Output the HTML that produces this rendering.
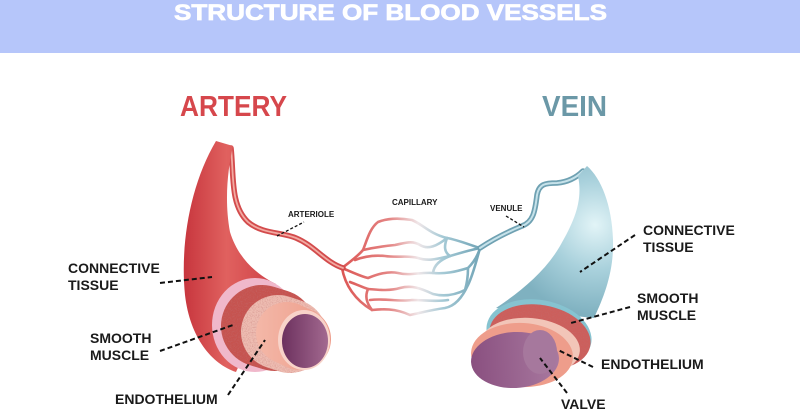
<!DOCTYPE html>
<html><head><meta charset="utf-8"><style>
html,body{margin:0;padding:0;background:#fff;}
svg{display:block;}
text{font-family:"Liberation Sans",Arial,sans-serif;font-weight:bold;}
</style></head><body>
<svg width="800" height="418" viewBox="0 0 800 418" xmlns="http://www.w3.org/2000/svg">
<defs>
<linearGradient id="horn" x1="183" y1="0" x2="280" y2="0" gradientUnits="userSpaceOnUse">
<stop offset="0" stop-color="#c7353d"/><stop offset="0.45" stop-color="#e0615f"/><stop offset="1" stop-color="#cd3d44"/>
</linearGradient>
<linearGradient id="cap" x1="340" y1="0" x2="482" y2="0" gradientUnits="userSpaceOnUse">
<stop offset="0" stop-color="#dc5553"/><stop offset="0.35" stop-color="#e48584"/><stop offset="0.55" stop-color="#efe6e8"/><stop offset="0.72" stop-color="#a6cad6"/><stop offset="1" stop-color="#6fa3b5"/>
</linearGradient>
<radialGradient id="vein" cx="595" cy="225" r="90" gradientUnits="userSpaceOnUse">
<stop offset="0" stop-color="#e2f4f7"/><stop offset="0.5" stop-color="#a9d1dc"/><stop offset="1" stop-color="#7fb1c0"/>
</radialGradient>
<linearGradient id="lumA" x1="280" y1="0" x2="330" y2="0" gradientUnits="userSpaceOnUse">
<stop offset="0" stop-color="#6a2e5c"/><stop offset="1" stop-color="#a56c92"/>
</linearGradient>
<linearGradient id="lumV" x1="472" y1="0" x2="560" y2="0" gradientUnits="userSpaceOnUse">
<stop offset="0" stop-color="#8a5080"/><stop offset="1" stop-color="#a97aa0"/>
</linearGradient>
<linearGradient id="salA" x1="255" y1="0" x2="335" y2="0" gradientUnits="userSpaceOnUse">
<stop offset="0" stop-color="#f4b8a8"/><stop offset="1" stop-color="#ec9a88"/>
</linearGradient>
<filter id="tex" filterUnits="userSpaceOnUse" x="0" y="0" width="800" height="418">
<feTurbulence type="fractalNoise" baseFrequency="0.8" numOctaves="2" seed="3" result="n"/>
<feColorMatrix in="n" type="matrix" values="0 0 0 0 0.55  0 0 0 0 0.15  0 0 0 0 0.15  0 0 0 1.2 -0.5" result="c"/>
<feComposite in="c" in2="SourceGraphic" operator="in" result="m"/>
<feMerge><feMergeNode in="SourceGraphic"/><feMergeNode in="m"/></feMerge>
</filter>
</defs>

<rect x="0" y="0" width="800" height="53" fill="#b6c6fa"/>
<text x="174" y="20" font-size="22" fill="#ffffff" stroke="#ffffff" stroke-width="0.7" textLength="433" lengthAdjust="spacingAndGlyphs">STRUCTURE OF BLOOD VESSELS</text>

<text x="180" y="116" font-size="29" fill="#d6474c" textLength="107" lengthAdjust="spacingAndGlyphs">ARTERY</text>
<text x="542" y="116" font-size="29" fill="#6b98a7" textLength="65" lengthAdjust="spacingAndGlyphs">VEIN</text>

<!-- capillaries -->
<g fill="none" stroke="url(#cap)" stroke-width="2.6" stroke-linecap="round">
<path d="M342,268 C350,262 358,256 363,250 C367,240 370,228 378,222 C388,218 400,218 412,220 C422,224 430,234 447,238 C458,240 470,245 480,248"/>
<path d="M363,250 C372,248 385,246 395,245 C405,243 412,240 420,245 C428,250 437,246 447,238"/>
<path d="M355,260 C365,256 375,255 385,256 C398,258 408,255 418,258 C430,262 440,258 450,256 C460,253 470,250 480,248"/>
<path d="M342,268 C352,272 360,276 368,278 C378,274 388,271 398,273 C410,276 420,272 433,273 C445,274 455,272 468,268 C474,262 478,255 480,248"/>
<path d="M350,282 C358,285 362,287 368,289 C380,290 390,291 400,288 C412,285 420,288 433,294 C445,297 455,295 465,290"/>
<path d="M342,268 C345,285 355,300 372,310 C382,309 395,308 410,315 C420,313 430,310 445,308 C455,306 462,298 468,285 C473,275 476,262 480,248"/>
<path d="M368,289 C365,296 366,302 372,310"/>
<path d="M370,300 C385,298 398,302 412,300 C425,300 435,302 448,300"/>
<path d="M447,238 C444,246 444,252 450,256"/>
<path d="M465,290 C468,280 468,273 468,268"/>
<path d="M433,273 C434,265 440,260 450,256"/>
</g>

<!-- arteriole -->
<path d="M231,148 C234,175 230,205 248,222 C262,234 282,232 296,238 C315,246 325,262 343,268" fill="none" stroke="#d34b4c" stroke-width="5.5" stroke-linecap="round"/>
<path d="M231,148 C234,175 230,205 248,222 C262,234 282,232 296,238 C315,246 325,262 343,268" fill="none" stroke="#f2aaa2" stroke-width="1.8" stroke-linecap="round"/>

<!-- artery horn -->
<path d="M216,141 L233,146 C228,168 224,200 230,232 C238,258 256,274 276,284 L236,372 C212,364 190,338 185,295 C180,245 190,185 216,141 Z" fill="url(#horn)"/>

<!-- artery cross-section -->
<ellipse cx="255" cy="325" rx="43" ry="47" fill="#f0b8cb"/>
<g filter="url(#tex)">
<line x1="262" y1="326" x2="275" y2="330" stroke="#c6524f" stroke-width="82" stroke-linecap="round"/>
</g>
<g filter="url(#tex)">
<line x1="278" y1="332" x2="290" y2="336" stroke="#eebdb2" stroke-width="74" stroke-linecap="round"/>
</g>
<line x1="287" y1="333" x2="300" y2="339" stroke="url(#salA)" stroke-width="62" stroke-linecap="round"/>
<ellipse cx="304" cy="340" rx="26" ry="30" fill="#f8d3c9"/>
<ellipse cx="305" cy="341" rx="23" ry="27" fill="url(#lumA)"/>

<!-- venule -->
<path d="M480,248 C492,240 505,233 522,226 C533,222 535,212 537,195 C539,184 545,183 557,183 C568,182 576,178 583,171" fill="none" stroke="#6fa1b2" stroke-width="5.5" stroke-linecap="round"/>
<path d="M480,248 C492,240 505,233 522,226 C533,222 535,212 537,195 C539,184 545,183 557,183 C568,182 576,178 583,171" fill="none" stroke="#c6e2ea" stroke-width="2" stroke-linecap="round"/>

<!-- vein body -->
<path d="M578,176 L587,166 C601,178 612,205 613,240 C614,270 605,295 594,318 L496,308 C520,292 545,272 560,246 C575,220 583,200 578,176 Z" fill="url(#vein)"/>

<!-- vein cross-section -->
<ellipse cx="539" cy="334" rx="53" ry="34" transform="rotate(10 539 334)" fill="#86c3d0"/>
<g filter="url(#tex)">
<ellipse cx="540" cy="337" rx="51" ry="32" transform="rotate(10 540 337)" fill="#cc5e5c"/>
</g>
<ellipse cx="530" cy="347" rx="50" ry="29" transform="rotate(5 530 347)" fill="#f2c5b8"/>
<ellipse cx="522" cy="355" rx="51" ry="32" transform="rotate(3 522 355)" fill="#ee9d8b"/>
<ellipse cx="515" cy="360" rx="44" ry="28" transform="rotate(-3 515 360)" fill="url(#lumV)"/>
<ellipse cx="540" cy="352" rx="17" ry="22" fill="#a6789d"/>

<!-- leaders -->
<g stroke="#111" stroke-width="2" stroke-dasharray="5,3" fill="none">
<line x1="160" y1="283" x2="212" y2="277"/>
<line x1="160" y1="351" x2="233" y2="325"/>
<line x1="228" y1="395" x2="265" y2="340"/>
<line x1="635" y1="235" x2="580" y2="272"/>
<line x1="630" y1="307" x2="571" y2="323"/>
<line x1="593" y1="367" x2="558" y2="350"/>
<line x1="567" y1="393" x2="540" y2="358"/>
</g>
<g stroke="#111" stroke-width="1.3" stroke-dasharray="3,2" fill="none">
<line x1="277" y1="236" x2="304" y2="222"/>
<line x1="506" y1="216" x2="524" y2="227"/>
</g>

<!-- labels -->
<g fill="#1a1a1a" font-size="14">
<text x="68" y="273">CONNECTIVE</text>
<text x="68" y="290">TISSUE</text>
<text x="90" y="343">SMOOTH</text>
<text x="90" y="360">MUSCLE</text>
<text x="115" y="404">ENDOTHELIUM</text>
<text x="643" y="235">CONNECTIVE</text>
<text x="643" y="252">TISSUE</text>
<text x="637" y="303">SMOOTH</text>
<text x="637" y="320">MUSCLE</text>
<text x="601" y="369">ENDOTHELIUM</text>
<text x="561" y="409">VALVE</text>
</g>
<g fill="#1a1a1a" font-size="8">
<text x="288" y="217">ARTERIOLE</text>
<text x="392" y="205">CAPILLARY</text>
<text x="490" y="211">VENULE</text>
</g>
</svg>
</body></html>
